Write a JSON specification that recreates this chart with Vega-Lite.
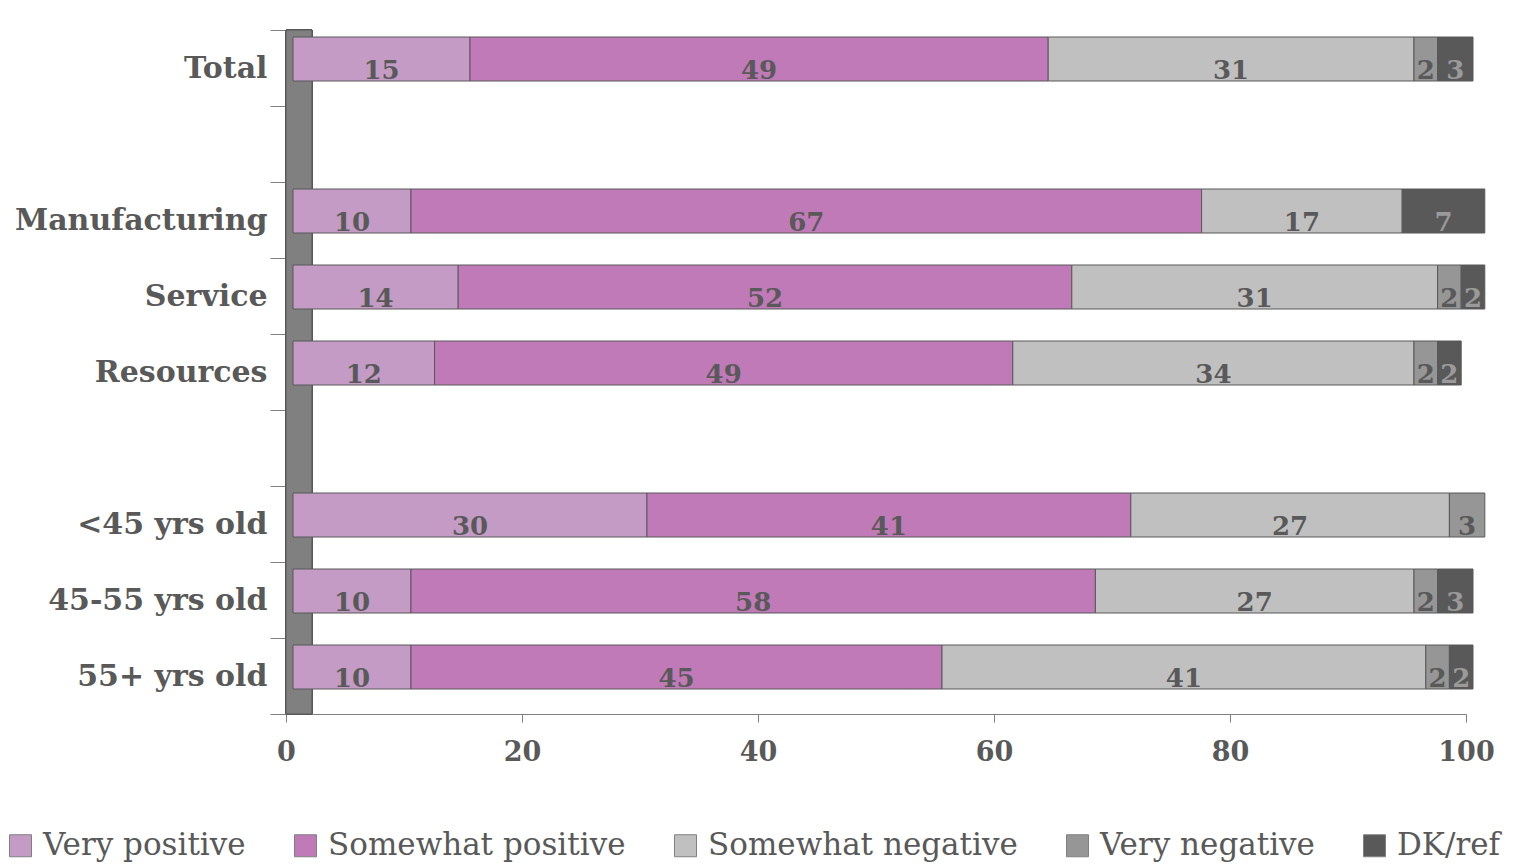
{
  "$schema": "https://vega.github.io/schema/vega-lite/v6.json",
  "autosize": "none",
  "width": 1180,
  "height": 684,
  "padding": {"left": 286, "top": 30, "right": 48, "bottom": 154},
  "background": "white",
  "config": {"view": {"stroke": null}, "font": "DejaVu Serif"},
  "data": {"values": [
    {"group": "Total", "response": "Very positive", "value": 15, "o": 1},
    {"group": "Total", "response": "Somewhat positive", "value": 49, "o": 2},
    {"group": "Total", "response": "Somewhat negative", "value": 31, "o": 3},
    {"group": "Total", "response": "Very negative", "value": 2, "o": 4},
    {"group": "Total", "response": "DK/ref", "value": 3, "o": 5},
    {"group": "Manufacturing", "response": "Very positive", "value": 10, "o": 1},
    {"group": "Manufacturing", "response": "Somewhat positive", "value": 67, "o": 2},
    {"group": "Manufacturing", "response": "Somewhat negative", "value": 17, "o": 3},
    {"group": "Manufacturing", "response": "DK/ref", "value": 7, "o": 5},
    {"group": "Service", "response": "Very positive", "value": 14, "o": 1},
    {"group": "Service", "response": "Somewhat positive", "value": 52, "o": 2},
    {"group": "Service", "response": "Somewhat negative", "value": 31, "o": 3},
    {"group": "Service", "response": "Very negative", "value": 2, "o": 4},
    {"group": "Service", "response": "DK/ref", "value": 2, "o": 5},
    {"group": "Resources", "response": "Very positive", "value": 12, "o": 1},
    {"group": "Resources", "response": "Somewhat positive", "value": 49, "o": 2},
    {"group": "Resources", "response": "Somewhat negative", "value": 34, "o": 3},
    {"group": "Resources", "response": "Very negative", "value": 2, "o": 4},
    {"group": "Resources", "response": "DK/ref", "value": 2, "o": 5},
    {"group": "<45 yrs old", "response": "Very positive", "value": 30, "o": 1},
    {"group": "<45 yrs old", "response": "Somewhat positive", "value": 41, "o": 2},
    {"group": "<45 yrs old", "response": "Somewhat negative", "value": 27, "o": 3},
    {"group": "<45 yrs old", "response": "Very negative", "value": 3, "o": 4},
    {"group": "45-55 yrs old", "response": "Very positive", "value": 10, "o": 1},
    {"group": "45-55 yrs old", "response": "Somewhat positive", "value": 58, "o": 2},
    {"group": "45-55 yrs old", "response": "Somewhat negative", "value": 27, "o": 3},
    {"group": "45-55 yrs old", "response": "Very negative", "value": 2, "o": 4},
    {"group": "45-55 yrs old", "response": "DK/ref", "value": 3, "o": 5},
    {"group": "55+ yrs old", "response": "Very positive", "value": 10, "o": 1},
    {"group": "55+ yrs old", "response": "Somewhat positive", "value": 45, "o": 2},
    {"group": "55+ yrs old", "response": "Somewhat negative", "value": 41, "o": 3},
    {"group": "55+ yrs old", "response": "Very negative", "value": 2, "o": 4},
    {"group": "55+ yrs old", "response": "DK/ref", "value": 2, "o": 5}
  ]},
  "layer": [
    {
      "mark": {"type": "rect", "color": "#808080", "stroke": "#595959", "strokeWidth": 1},
      "encoding": {
        "x": {"datum": 0, "type": "quantitative", "scale": {"domain": [0, 100], "nice": false}},
        "x2": {"datum": 2.2}
      }
    },
    {
      "mark": {"type": "bar", "size": 44, "xOffset": 7, "yOffset": -9, "stroke": "#595959", "strokeWidth": 1},
      "encoding": {
        "y": {
          "field": "group", "type": "nominal",
          "scale": {"domain": ["Total", " ", "Manufacturing", "Service", "Resources", "  ", "<45 yrs old", "45-55 yrs old", "55+ yrs old"], "paddingInner": 0, "paddingOuter": 0},
          "axis": {"title": null, "tickBand": "extent", "tickSize": 16, "tickColor": "#808080", "domain": false, "labelFont": "DejaVu Serif", "labelFontWeight": "bold", "labelFontSize": 30, "labelColor": "#595959", "labelPadding": 3, "labelLimit": 0}
        },
        "x": {"field": "value", "type": "quantitative", "stack": "zero",
          "scale": {"domain": [0, 100], "nice": false},
          "axis": {"title": null, "values": [0, 20, 40, 60, 80, 100], "tickSize": 8, "tickColor": "#808080", "domainColor": "#808080", "grid": false, "labelFlush": false, "labelFont": "DejaVu Serif", "labelFontWeight": "bold", "labelFontSize": 27, "labelColor": "#595959", "labelPadding": 17}},
        "color": {"field": "response", "type": "nominal",
          "scale": {"domain": ["Very positive", "Somewhat positive", "Somewhat negative", "Very negative", "DK/ref"], "range": ["#c39bc5", "#c07ab8", "#c0c0c0", "#969696", "#595959"]},
          "legend": {"title": null, "orient": "none", "legendX": -281, "legendY": 800, "padding": 0, "direction": "horizontal", "columns": 5, "symbolType": "square", "symbolSize": 484, "symbolStrokeColor": "#808080", "symbolStrokeWidth": 1, "labelFont": "DejaVu Serif", "labelFontSize": 31, "labelColor": "#595959", "labelLimit": 0, "columnPadding": 44, "labelOffset": 7}},
        "order": {"field": "o"}
      }
    },
    {
      "mark": {"type": "text", "xOffset": 7, "dy": 3, "font": "DejaVu Serif", "fontWeight": "bold", "fontSize": 26, "baseline": "middle"},
      "encoding": {
        "y": {"field": "group", "type": "nominal"},
        "x": {"field": "value", "type": "quantitative", "stack": "zero", "bandPosition": 0.5},
        "detail": {"field": "response"},
        "order": {"field": "o"},
        "text": {"field": "value"},
        "color": {"condition": {"test": "datum.response === 'DK/ref'", "value": "#9a9a9a"}, "value": "#595959"}
      }
    }
  ]
}
